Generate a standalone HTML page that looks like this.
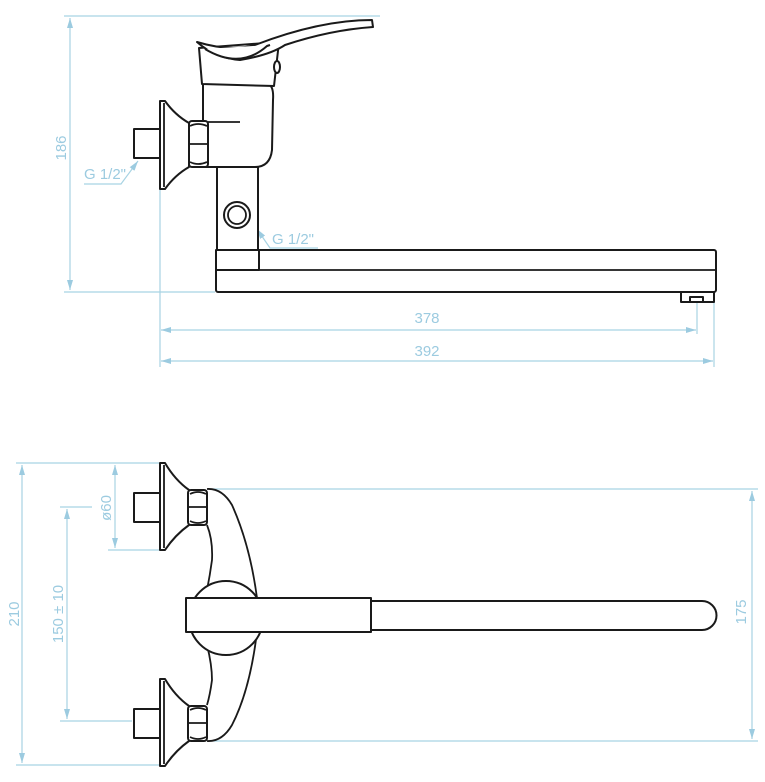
<!DOCTYPE html>
<html><head><meta charset="utf-8"><style>
html,body{margin:0;padding:0;background:#fff;width:765px;height:782px;overflow:hidden}
svg{display:block}
.d{stroke:#a8d3e3;stroke-width:1.2;fill:none}
.k{stroke:#1a1a1a;stroke-width:2;fill:#fff;stroke-linejoin:round}
.kn{stroke:#1a1a1a;stroke-width:1.8;fill:none}
.f{fill:#fff;stroke:none}
text{font-family:"Liberation Sans",sans-serif;fill:#9ccbe0;font-size:15px}
</style></head><body>
<svg width="765" height="782" viewBox="0 0 765 782" xmlns="http://www.w3.org/2000/svg">
<defs>
<marker id="a" markerWidth="10" markerHeight="6" refX="10" refY="3" orient="auto-start-reverse" markerUnits="userSpaceOnUse"><path d="M0,0 L10,3 L0,6z" fill="#9ccbe0"/></marker>
</defs>
<!-- TOP VIEW dims -->
<line class="d" x1="64" y1="16" x2="380" y2="16"/>
<line class="d" x1="64" y1="292" x2="215" y2="292"/>
<line class="d" x1="70" y1="18" x2="70" y2="290" marker-start="url(#a)" marker-end="url(#a)"/>
<text transform="translate(66,148) rotate(-90)" text-anchor="middle">186</text>
<line class="d" x1="160" y1="190" x2="160" y2="367"/>
<line class="d" x1="697" y1="302" x2="697" y2="334"/>
<line class="d" x1="714" y1="302" x2="714" y2="367"/>
<line class="d" x1="161" y1="330" x2="696" y2="330" marker-start="url(#a)" marker-end="url(#a)"/>
<line class="d" x1="161" y1="361" x2="713" y2="361" marker-start="url(#a)" marker-end="url(#a)"/>
<text x="427" y="323" text-anchor="middle">378</text>
<text x="427" y="356" text-anchor="middle">392</text>
<text x="84" y="179">G 1/2"</text>
<polyline class="d" points="84,184 121,184 138,161" marker-end="url(#a)"/>
<text x="272" y="244">G 1/2"</text>
<polyline class="d" points="318,248 270,248 257,229" marker-end="url(#a)"/>
<!-- TOP VIEW drawing -->
<rect class="k" x="216" y="250" width="500" height="42" rx="2"/>
<line class="kn" x1="259" y1="270" x2="716" y2="270"/>
<rect class="k" x="216" y="250" width="43" height="20"/>
<rect class="k" x="681" y="292" width="33" height="10"/>
<rect class="k" x="690" y="297" width="13" height="5"/>
<rect class="k" x="217" y="167" width="41" height="83"/>
<circle class="k" cx="237" cy="215" r="13"/>
<circle class="kn" cx="237" cy="215" r="9"/>
<path class="k" d="M203,84 L268,84 Q274,86 273,100 L272,150 Q270,167 255,167 L203,167 Z"/>
<line class="kn" x1="208" y1="122" x2="240" y2="122"/>
<path class="k" d="M199,48 L202,84 L274,86 L279,42 Z"/>
<path class="k" d="M197,42 Q230,52 255,45 Q320,20 372,20 L373,27 Q330,30 285,45 Q270,55 240,60 Q215,58 197,42 Z"/>
<path class="k" d="M205,49 Q240,70 267,46 L270,45"/>
<ellipse class="k" cx="277" cy="67" rx="3" ry="6"/>
<rect class="k" x="134" y="129" width="26" height="29"/>
<path class="k" d="M160,101 L165,101 Q175,115 189,123 L189,167 Q175,175 165,189 L160,189 Z"/>
<line class="kn" x1="164" y1="103" x2="164" y2="187"/>
<rect class="k" x="189" y="121" width="19" height="46" rx="3"/>
<path class="kn" d="M189,144 L208,144 M190,126 Q198,122 207,126 M190,162 Q198,166 207,162"/>
<!-- BOTTOM VIEW dims -->
<line class="d" x1="16" y1="463" x2="160" y2="463"/>
<line class="d" x1="16" y1="765" x2="160" y2="765"/>
<line class="d" x1="22" y1="465" x2="22" y2="763" marker-start="url(#a)" marker-end="url(#a)"/>
<text transform="translate(19,614) rotate(-90)" text-anchor="middle">210</text>
<line class="d" x1="108" y1="550" x2="160" y2="550"/>
<line class="d" x1="115" y1="465" x2="115" y2="548" marker-start="url(#a)" marker-end="url(#a)"/>
<text transform="translate(111,508) rotate(-90)" text-anchor="middle">ø60</text>
<line class="d" x1="60" y1="507" x2="92" y2="507"/>
<line class="d" x1="60" y1="721" x2="132" y2="721"/>
<line class="d" x1="67" y1="509" x2="67" y2="719" marker-start="url(#a)" marker-end="url(#a)"/>
<text transform="translate(63,614) rotate(-90)" text-anchor="middle">150 ± 10</text>
<line class="d" x1="213" y1="489" x2="758" y2="489"/>
<line class="d" x1="213" y1="741" x2="758" y2="741"/>
<line class="d" x1="752" y1="491" x2="752" y2="739" marker-start="url(#a)" marker-end="url(#a)"/>
<text transform="translate(746,612) rotate(-90)" text-anchor="middle">175</text>
<!-- BOTTOM VIEW drawing -->
<path class="f" d="M207,489 Q222,488 232,505 Q250,545 257,598 L257,632 Q250,690 232,725 Q222,742 207,741 Z"/>
<path class="kn" d="M207,489 Q222,488 232,505 Q250,545 257,598 L257,632 Q250,690 232,725 Q222,742 207,741"/>
<path class="kn" d="M207,525 Q213,540 212,560 Q210,575 207,590 M207,645 Q212,665 212,680 Q210,695 207,705"/>
<circle class="k" cx="226" cy="618" r="37"/>
<path class="k" d="M371,601 L702,601 A14.5,14.5 0 0 1 702,630 L371,630 Z"/>
<rect class="k" x="186" y="598" width="185" height="34"/>
<g id="fl">
<rect class="k" x="134" y="493" width="26" height="29"/>
<path class="k" d="M160,463 L165,463 Q175,480 189,490 L189,525 Q175,535 165,550 L160,550 Z"/>
<line class="kn" x1="164" y1="465" x2="164" y2="548"/>
<rect class="k" x="188" y="490" width="19" height="35" rx="3"/>
<path class="kn" d="M188,507 L207,507 M190,494 Q198,490 206,494 M190,521 Q198,525 206,521"/>
</g>
<use href="#fl" transform="translate(0,216)"/>
</svg>
</body></html>
